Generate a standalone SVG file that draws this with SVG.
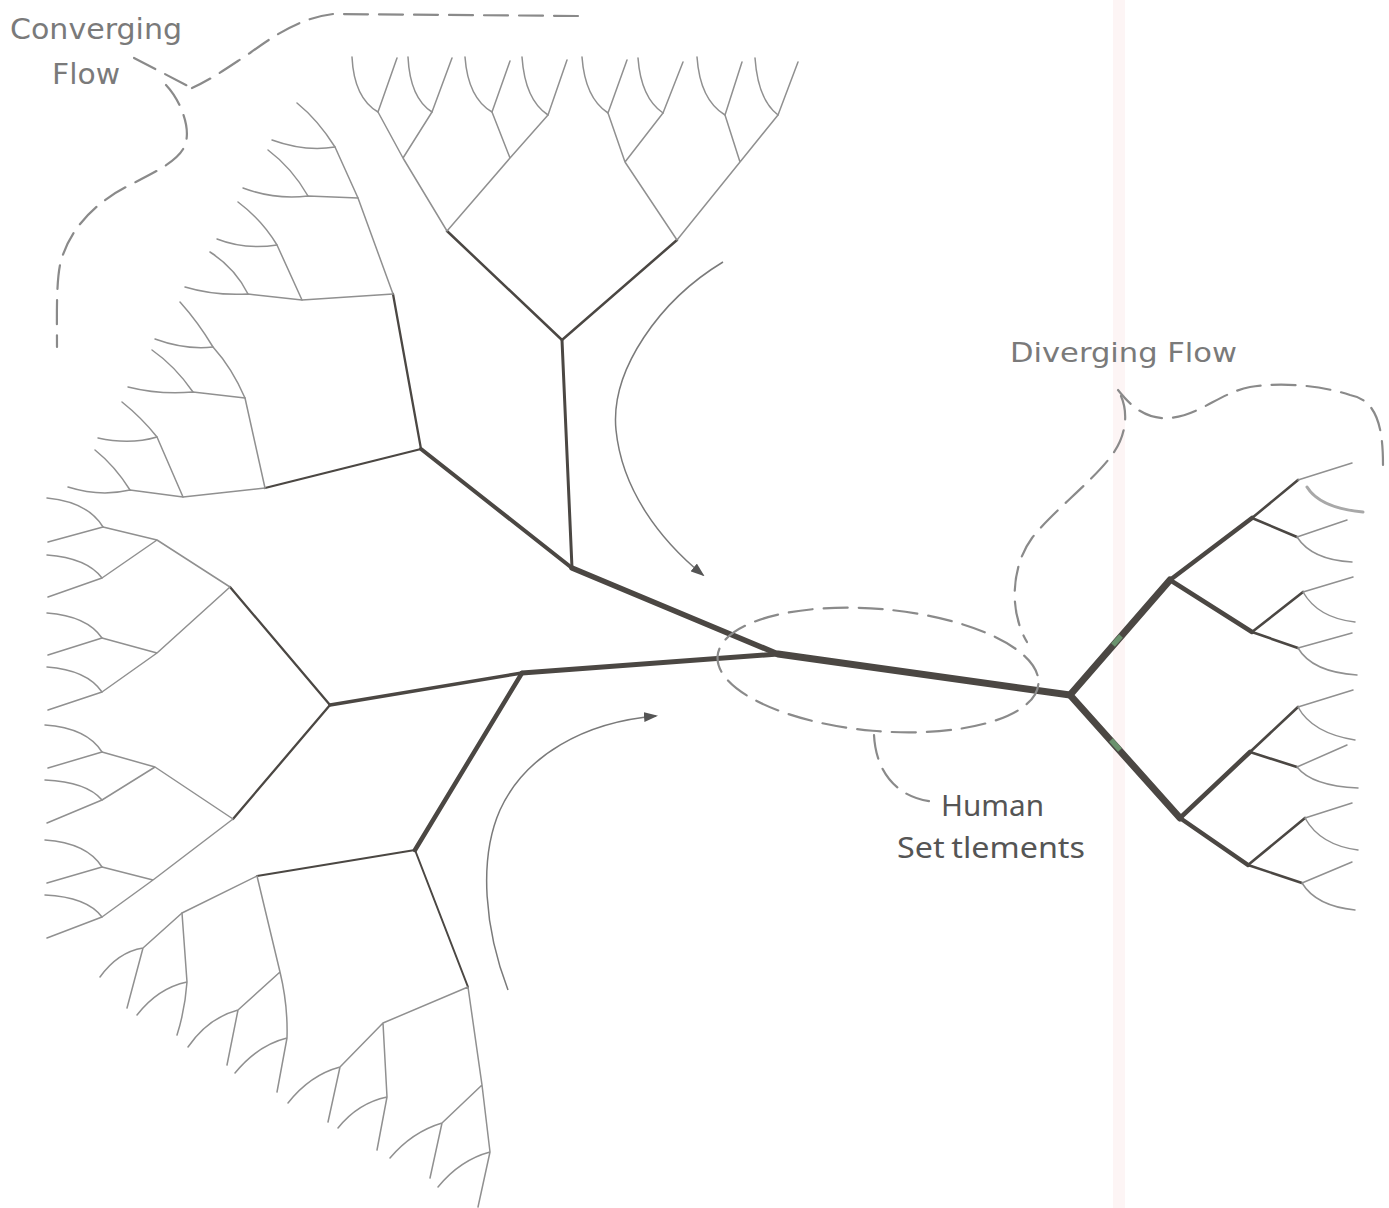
<svg xmlns="http://www.w3.org/2000/svg" width="1389" height="1208" viewBox="0 0 1389 1208">
<defs>
<style>
.t{fill:none;stroke:#909090;stroke-width:1.5;stroke-linecap:round;stroke-linejoin:round}
.d{fill:none;stroke:#4b4743;stroke-linecap:round;stroke-linejoin:round}
.dash{fill:none;stroke:#8a8a8a;stroke-width:2.2;stroke-dasharray:24 11;stroke-linecap:round}
.arr{fill:none;stroke:#7a7a7a;stroke-width:1.5}
.lbl{font-family:"DejaVu Sans","Liberation Sans",sans-serif;fill:#7a7a7a}
.lbl2{font-family:"Noto Sans","DejaVu Sans",sans-serif;fill:#555}
</style>
<marker id="ah" viewBox="0 0 14 10" refX="12" refY="5" markerWidth="14" markerHeight="10" markerUnits="userSpaceOnUse" orient="auto">
<path d="M0,0 L14,5 L0,10 Z" fill="#555"/>
</marker>
</defs>
<rect width="1389" height="1208" fill="#ffffff"/>
<rect x="1113" y="0" width="12" height="1208" fill="#fdf5f5"/>

<g id="connectors">
<g id="trunk">
<path class="d" stroke-width="7" d="M778,654 L1070,695"/>
<path class="d" stroke-width="5.5" d="M572,568 L778,654"/>
<path class="d" stroke-width="5" d="M522,673 L778,654"/>
<path class="d" stroke-width="3" d="M572,568 L562,340"/>
<path class="d" stroke-width="4" d="M572,568 L421,449"/>
<path class="d" stroke-width="3.5" d="M522,673 L330,705"/>
<path class="d" stroke-width="4.5" d="M522,673 L415,850"/>
<path class="d" stroke-width="2.5" d="M447,231 L562,340 L677,240"/>
<path class="d" stroke-width="2.3" d="M393,294 L421,449 L265,488"/>
<path class="d" stroke-width="2.3" d="M230,587 L330,705 L233,819"/>
<path class="d" stroke-width="2" d="M257,876 L415,850 L468,987"/>
</g>

<g id="top-tree">
<path class="t" d="M447,231 L403,158 L378,112 M403,158 L432,112 M447,231 L510,158 L492,112 M510,158 L548,115 M677,240 L625,162 L608,113 M625,162 L663,113 M677,240 L740,162 L725,115 M740,162 L778,115"/>
<path class="t" d="M352,57 Q354,98 378,112 L397,58 M408,57 Q410,98 432,112 L452,58 M465,57 Q468,98 492,112 L510,61 M522,57 Q525,100 548,115 L567,60 M582,57 Q585,98 608,113 L627,60 M638,58 Q641,98 663,113 L683,62 M697,57 Q700,100 725,115 L742,62 M755,58 Q758,100 778,115 L798,62"/>
</g>

<g id="upper-left">
<path class="t" d="M393,294 L358,198 L335,147 Q318,120 297,103"/>
<path class="t" d="M272,140 Q305,152 335,147"/>
<path class="t" d="M358,198 L308,196 Q275,200 243,188"/>
<path class="t" d="M308,196 Q292,168 268,150"/>
<path class="t" d="M393,294 L302,300 L248,294 Q215,296 185,287"/>
<path class="t" d="M302,300 L277,245 Q262,220 238,202"/>
<path class="t" d="M277,245 Q245,250 217,239"/>
<path class="t" d="M248,294 Q235,268 210,252"/>
<path class="t" d="M265,488 L183,497 L130,490 Q100,497 68,487"/>
<path class="t" d="M265,488 L245,398 Q232,368 213,347 Q198,322 180,302"/>
<path class="t" d="M245,398 L193,392 Q160,395 128,387"/>
<path class="t" d="M193,392 Q175,366 152,350"/>
<path class="t" d="M213,347 Q185,350 155,339"/>
<path class="t" d="M183,497 L157,437 Q142,418 122,402"/>
<path class="t" d="M157,437 Q130,445 98,438"/>
<path class="t" d="M130,490 Q115,466 95,450"/>
</g>

<g id="left-tree">
<path class="t" d="M230,587 L157,540 L103,527 M157,540 L102,578 M230,587 L157,653 L102,638 M157,653 L102,692 M233,819 L155,767 L102,752 M155,767 L102,800 M233,819 L153,880 L102,867 M153,880 L102,917"/>
<path class="t" d="M47,498 Q88,502 103,527 L48,542 M47,555 Q87,558 102,578 L48,597 M47,613 Q87,616 102,638 L48,655 M47,667 Q87,670 102,692 L48,710 M45,725 Q87,728 102,752 L48,768 M45,780 Q87,782 102,800 L47,823 M45,840 Q87,843 102,867 L47,883 M45,895 Q87,897 102,917 L47,938"/>
</g>

<g id="bottom-tree">
<path class="t" d="M257,876 L182,913 L143,948 M143,948 Q118,952 100,977 M143,948 L127,1008"/>
<path class="t" d="M182,913 L187,982 Q185,1010 177,1035 M187,982 Q158,988 137,1015"/>
<path class="t" d="M257,876 L280,972 Q288,1005 287,1038 L277,1092 M280,972 L238,1010 L227,1065 M238,1010 Q208,1018 188,1047 M287,1038 Q258,1045 235,1073"/>
<path class="t" d="M468,987 L482,1085 L490,1152 L478,1207 M468,987 L383,1023 L387,1097 L377,1150 M387,1097 Q358,1103 338,1128 M383,1023 L340,1067 L328,1122 M340,1067 Q310,1075 288,1103 M482,1085 L442,1123 L430,1178 M442,1123 Q412,1132 390,1158 M490,1152 Q460,1160 438,1187"/>
</g>

<g id="delta">
<path class="d" stroke-width="7" d="M1170,580 L1070,695 L1180,818"/>
<path class="d" stroke-width="4.5" d="M1252,518 L1170,580 L1252,632 M1250,752 L1180,818 L1248,865"/>
<path class="d" stroke-width="2.6" d="M1298,480 L1252,518 L1297,537 M1303,592 L1252,632 L1298,648 M1298,707 L1250,752 L1297,767 M1305,818 L1248,865 L1302,883"/>
<path class="t" d="M1298,480 L1352,463 M1297,537 L1347,520 M1297,537 Q1312,560 1352,562 M1303,592 L1353,577 M1303,592 Q1318,618 1355,622 M1298,648 L1352,633 M1298,648 Q1312,672 1357,675 M1298,707 L1353,690 M1298,707 Q1312,733 1355,740 M1297,767 L1347,745 M1297,767 Q1312,786 1358,788 M1305,818 L1352,803 M1305,818 Q1320,845 1358,850 M1302,883 L1352,862 M1302,883 Q1316,906 1355,910"/>
<path d="M1307,487 Q1320,508 1363,512" fill="none" stroke="#a8a8a8" stroke-width="3" stroke-linecap="round"/>
<path d="M1113,645 L1121,636 M1111,740 L1120,750" stroke="#7fc48a" stroke-width="5" opacity="0.6"/>
</g>

<g id="arrows">
<path class="arr" d="M723,262 C660,300 610,370 616,430 C622,490 660,540 703,575" marker-end="url(#ah)"/>
<path class="arr" d="M508,990 C485,930 478,860 500,810 C525,755 585,722 656,716" marker-end="url(#ah)"/>
</g>

<g id="annotations">
<path class="dash" d="M578,16 L333,14 C300,18 275,35 250,53 C230,66 212,79 192,88"/>
<path class="dash" d="M134,58 L188,86"/>
<path class="dash" d="M166,85 C180,100 190,125 186,142 C182,160 155,172 126,187 C95,203 68,230 60,265 C56,285 57,320 57,347"/>
<path class="dash" d="M1383,465 C1383,430 1378,400 1350,395 C1320,385 1280,382 1250,387 C1220,393 1200,415 1170,418 C1145,420 1130,405 1118,390"/>
<path class="dash" d="M1121,396 C1128,412 1127,435 1112,455 C1092,482 1052,512 1032,538 C1012,565 1008,610 1027,642"/>
<ellipse class="dash" cx="878" cy="670" rx="161" ry="61" transform="rotate(5 878 670)"/>
<path class="dash" stroke-dasharray="16 9" d="M874,735 C876,775 900,800 937,802"/>
</g>
</g>

<g id="labels">
<text class="lbl" x="10" y="39" font-size="28" textLength="172" lengthAdjust="spacingAndGlyphs">Converging</text>
<text class="lbl" x="52" y="84" font-size="28" textLength="68" lengthAdjust="spacingAndGlyphs">Flow</text>
<text class="lbl" x="1010" y="362" font-size="27" textLength="227" lengthAdjust="spacingAndGlyphs">Diverging Flow</text>
<text class="lbl2" x="941" y="816" font-size="29" textLength="103" lengthAdjust="spacingAndGlyphs">Human</text>
<text class="lbl2" x="897" y="858" font-size="29" textLength="188" lengthAdjust="spacingAndGlyphs">Set<tspan dx="6">tlements</tspan></text>
</g>
</svg>
